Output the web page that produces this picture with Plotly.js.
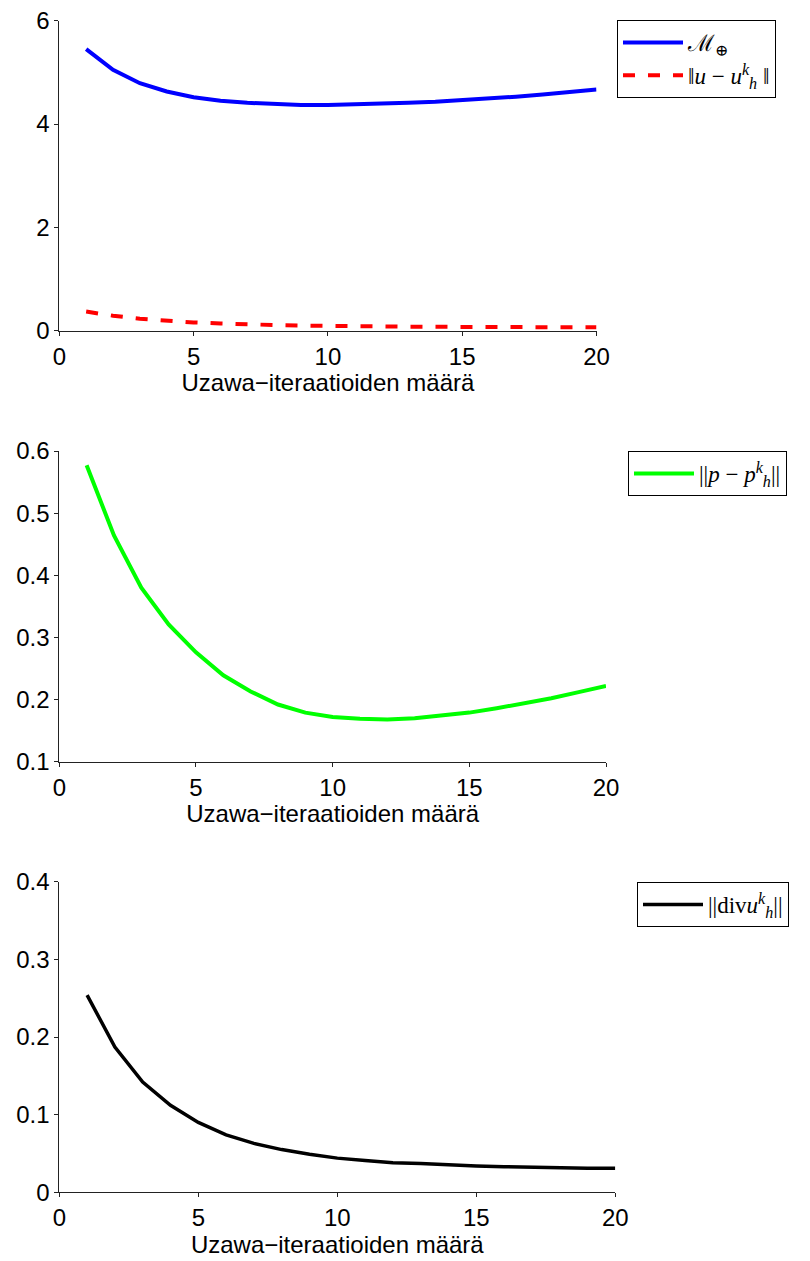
<!DOCTYPE html>
<html>
<head>
<meta charset="utf-8">
<script src="https://cdn.plot.ly/plotly-3.0.1.min.js"></script>
<style>html,body{margin:0;padding:0;background:#fff;}#chart{width:810px;height:1261px;}</style>
</head>
<body>
<div id="chart"></div>
<script>
// Iteration counts
const iterations = [1,2,3,4,5,6,7,8,9,10,11,12,13,14,15,16,17,18,19,20];

// Panel 1
const mOplus = [5.45,5.05,4.79,4.63,4.52,4.45,4.41,4.39,4.37,4.37,4.38,4.39,4.41,4.43,4.46,4.49,4.53,4.57,4.62,4.67];
const uError = [0.37,0.29,0.23,0.19,0.16,0.14,0.12,0.11,0.10,0.09,0.085,0.08,0.078,0.075,0.073,0.071,0.069,0.067,0.066,0.065];

// Panel 2
const pError = [0.577,0.464,0.380,0.321,0.276,0.239,0.213,0.192,0.179,0.172,0.169,0.168,0.170,0.174,0.179,0.186,0.194,0.202,0.212,0.222];

// Panel 3
const divError = [0.254,0.187,0.142,0.112,0.090,0.074,0.063,0.055,0.049,0.044,0.041,0.038,0.037,0.035,0.034,0.033,0.032,0.032,0.031,0.031];

const xTitle = "Uzawa\u2212iteraatioiden m\u00e4\u00e4r\u00e4";
const legendNames = [
  "\u2133<sub>\u2295</sub>",
  "\u2016<i>u</i> \u2212 <i>u</i><sup><i>k</i></sup><sub><i>h</i></sub> \u2016",
  "||<i>p</i> \u2212 <i>p</i><sup><i>k</i></sup><sub><i>h</i></sub>||",
  "||div<i>u</i><sup><i>k</i></sup><sub><i>h</i></sub>||"
];

const W = 810, H = 1261;
const fx = v => v / W;
const fy = v => 1 - v / H;

const traces = [
  {x: iterations, y: mOplus, type: 'scatter', mode: 'lines', name: legendNames[0],
   line: {color: '#0000ff', width: 4}, xaxis: 'x', yaxis: 'y', legend: 'legend'},
  {x: iterations, y: uError, type: 'scatter', mode: 'lines', name: legendNames[1],
   line: {color: '#ff0000', width: 4, dash: '12px,13px'}, xaxis: 'x', yaxis: 'y', legend: 'legend'},
  {x: iterations, y: pError, type: 'scatter', mode: 'lines', name: legendNames[2],
   line: {color: '#00ff00', width: 4}, xaxis: 'x2', yaxis: 'y2', legend: 'legend2'},
  {x: iterations, y: divError, type: 'scatter', mode: 'lines', name: legendNames[3],
   line: {color: '#000000', width: 3.5}, xaxis: 'x3', yaxis: 'y3', legend: 'legend3'}
];

const tickFont = {family: 'Liberation Sans, Arial, sans-serif', size: 24, color: '#000'};
function xAx(domain, anchor) {
  return {
    domain: domain, anchor: anchor, range: [0, 20], tickvals: [0,5,10,15,20],
    showgrid: false, zeroline: false, showline: true, linecolor: '#222', linewidth: 1,
    ticks: 'outside', ticklen: 4, tickcolor: '#222', tickfont: tickFont,
    title: {text: xTitle, font: tickFont, standoff: 5}, automargin: false
  };
}
function yAx(domain, anchor, range, tickvals, ticktext) {
  return {
    domain: domain, anchor: anchor, range: range, tickvals: tickvals, ticktext: ticktext,
    showgrid: false, zeroline: false, showline: true, linecolor: '#222', linewidth: 1,
    ticks: 'outside', ticklen: 4, tickcolor: '#222', tickfont: tickFont, automargin: false
  };
}
const legendBase = {
  bgcolor: '#ffffff', bordercolor: '#000', borderwidth: 1,
  font: {family: 'Liberation Serif, DejaVu Serif, serif', size: 23, color: '#000'},
  xanchor: 'left', yanchor: 'top', itemwidth: 60, tracegroupgap: 0
};

const layout = {
  width: W, height: H,
  margin: {l: 0, r: 0, t: 0, b: 0, autoexpand: false},
  paper_bgcolor: '#fff', plot_bgcolor: '#fff',
  showlegend: true,
  xaxis: xAx([fx(59.3), fx(596.5)], 'y'),
  yaxis: yAx([fy(330.7), fy(20.7)], 'x', [0, 6], [0,2,4,6], ['0','2','4','6']),
  xaxis2: xAx([fx(59.3), fx(606)], 'y2'),
  yaxis2: yAx([fy(761.7), fy(451)], 'x2', [0.1, 0.6], [0.1,0.2,0.3,0.4,0.5,0.6], ['0.1','0.2','0.3','0.4','0.5','0.6']),
  xaxis3: xAx([fx(59.3), fx(615.3)], 'y3'),
  yaxis3: yAx([fy(1192.3), fy(881.7)], 'x3', [0, 0.4], [0,0.1,0.2,0.3,0.4], ['0','0.1','0.2','0.3','0.4']),
  legend: Object.assign({}, legendBase, {x: fx(617), y: fy(20)}),
  legend2: Object.assign({}, legendBase, {x: fx(628), y: fy(451)}),
  legend3: Object.assign({}, legendBase, {x: fx(637), y: fy(882)})
};

Plotly.newPlot('chart', traces, layout, {displayModeBar: false, staticPlot: true});
</script>
</body>
</html>
